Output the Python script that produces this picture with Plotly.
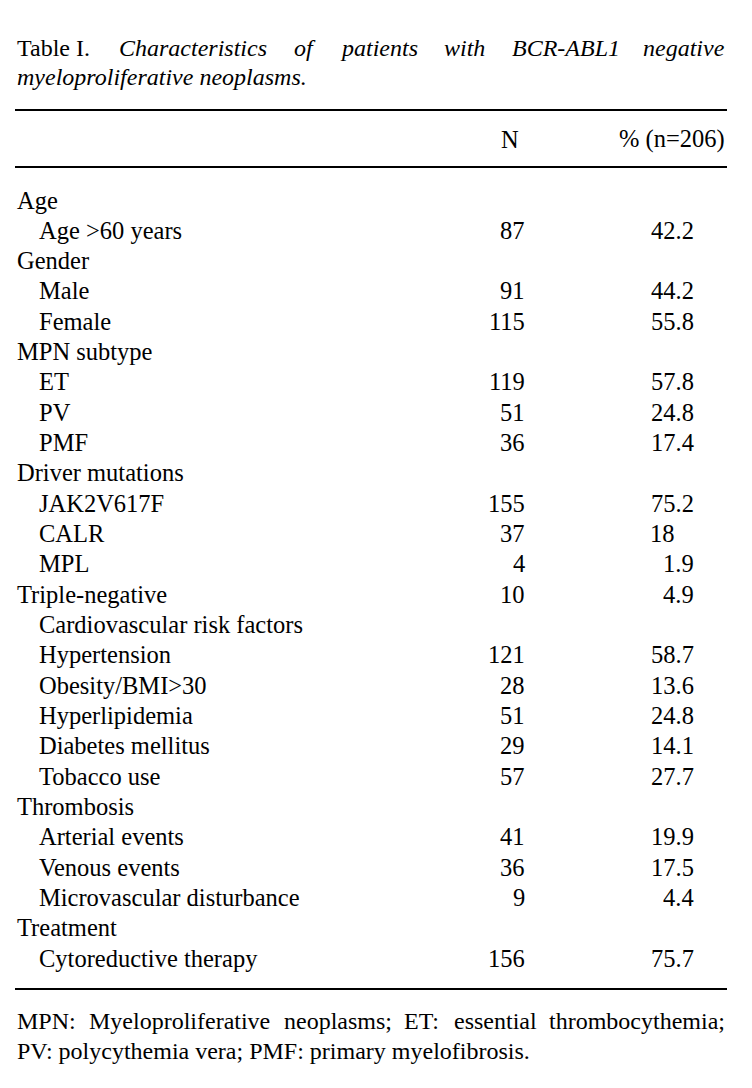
import plotly.graph_objects as go

# ---- data ----
title_line1_words = ["Table I.", "Characteristics", "of", "patients", "with", "BCR-ABL1", "negative"]
title_line2 = "myeloproliferative neoplasms."
header_cols = ["N", "% (n=206)"]

row_labels = [
    "Age", "Age >60 years",
    "Gender", "Male", "Female",
    "MPN subtype", "ET", "PV", "PMF",
    "Driver mutations", "JAK2V617F", "CALR", "MPL",
    "Triple-negative", "Cardiovascular risk factors",
    "Hypertension", "Obesity/BMI>30", "Hyperlipidemia", "Diabetes mellitus", "Tobacco use",
    "Thrombosis", "Arterial events", "Venous events", "Microvascular disturbance",
    "Treatment", "Cytoreductive therapy",
]
row_indent = [0, 1, 0, 1, 1, 0, 1, 1, 1, 0, 1, 1, 1, 0, 1, 1, 1, 1, 1, 1, 0, 1, 1, 1, 0, 1]
n_values = ["", "87", "", "91", "115", "", "119", "51", "36", "", "155", "37", "4",
            "10", "", "121", "28", "51", "29", "57", "", "41", "36", "9", "", "156"]
pct_values = ["", "42.2", "", "44.2", "55.8", "", "57.8", "24.8", "17.4", "", "75.2", "18", "1.9",
              "4.9", "", "58.7", "13.6", "24.8", "14.1", "27.7", "", "19.9", "17.5", "4.4", "", "75.7"]
footnote_line1_words = ["MPN:", "Myeloproliferative", "neoplasms;", "ET:", "essential", "thrombocythemia;"]
footnote_line2 = "PV: polycythemia vera; PMF: primary myelofibrosis."

# ---- layout / style ----
W, H = 752, 1088
OFF = 8  # default page body margin
FONT = "Liberation Serif, Times New Roman, serif"
FS = 24.5
FS_TITLE = 24
FS_NOTE = 24
LEFT, RIGHT = 15, 727
INDENT = 22
N_RIGHT = 527
PCT_RIGHT = 696
PCT_DEC = 677
ROW0_Y, ROW_DY = 200, 30.32

title_word_x = [15, 117, 292, 338, 442, 510, None]
note_word_x = [15, 87, 282, 402, 452, None]

fig = go.Figure()
annotations = []
shapes = []


def add_text(text, x, y, anchor="left", italic=False, size=FS):
    annotations.append(dict(
        x=x, y=y, xref="x", yref="y", text=text, showarrow=False,
        xanchor=anchor, yanchor="middle",
        font=dict(family=FONT, size=size, color="black",
                  style="italic" if italic else "normal"),
    ))


# title
for i, w in enumerate(title_line1_words):
    if title_word_x[i] is None:
        add_text(w, RIGHT, 48, anchor="right", italic=True, size=FS_TITLE)
    else:
        add_text(w, title_word_x[i], 48, anchor="left", italic=(i > 0), size=FS_TITLE)
add_text(title_line2, LEFT, 77, italic=True, size=FS_TITLE)

# rules
for yy in [110, 167, 989]:
    shapes.append(dict(type="line", xref="x", yref="y", x0=LEFT, x1=RIGHT, y0=yy, y1=yy,
                       line=dict(color="black", width=1.8)))

# header
add_text(header_cols[0], 510, 139, anchor="center")
add_text(header_cols[1], RIGHT, 139, anchor="right")

# rows
for i, lab in enumerate(row_labels):
    y = ROW0_Y + i * ROW_DY
    add_text(lab, LEFT + INDENT * row_indent[i], y)
    if n_values[i]:
        add_text(n_values[i], N_RIGHT, y, anchor="right")
    if pct_values[i]:
        if "." in pct_values[i]:
            add_text(pct_values[i], PCT_RIGHT, y, anchor="right")
        else:
            add_text(pct_values[i], PCT_DEC, y, anchor="right")

# footnote
for i, w in enumerate(footnote_line1_words):
    if note_word_x[i] is None:
        add_text(w, RIGHT, 1021, anchor="right", size=FS_NOTE)
    else:
        add_text(w, note_word_x[i], 1021, anchor="left", size=FS_NOTE)
add_text(footnote_line2, LEFT, 1051, size=FS_NOTE)

fig.update_layout(
    width=W, height=H,
    margin=dict(l=0, r=0, t=0, b=0),
    paper_bgcolor="white", plot_bgcolor="white",
    xaxis=dict(range=[OFF, W + OFF], visible=False, fixedrange=True),
    yaxis=dict(range=[H + OFF, OFF], visible=False, fixedrange=True),
    annotations=annotations, shapes=shapes, showlegend=False,
)

fig.write_html("out.html", config={"displayModeBar": False})
